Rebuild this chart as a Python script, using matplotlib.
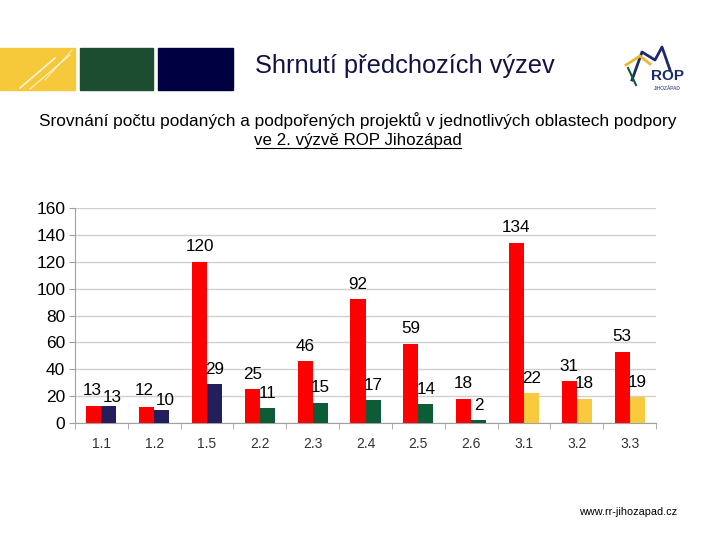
import matplotlib
matplotlib.use('Agg')
import matplotlib.pyplot as plt
import matplotlib.patches as mpatches
import numpy as np

plt.rcParams['font.family'] = ['Liberation Sans', 'DejaVu Sans']

# ── data ──────────────────────────────────────────────────────────────────────
areas     = ['1.1', '1.2', '1.5', '2.2', '2.3', '2.4', '2.5', '2.6', '3.1', '3.2', '3.3']
submitted = [13, 12, 120, 25, 46, 92, 59, 18, 134, 31, 53]
supported = [13, 10, 29, 11, 15, 17, 14, 2, 22, 18, 19]
priority  = ['1', '1', '1', '2', '2', '2', '2', '2', '3', '3', '3']

RED = '#FF0000'
prio_colors = {'1': '#231F5C', '2': '#0E5B38', '3': '#F9C93E'}
W, H = 720, 540

fig = plt.figure(figsize=(7.2, 5.4), dpi=100)
fig.patch.set_facecolor('white')

# ── header band ───────────────────────────────────────────────────────────────
def px_rect(x0, y0, x1, y1, color):
    fig.patches.append(mpatches.Rectangle((x0 / W, 1 - y1 / H), (x1 - x0) / W, (y1 - y0) / H,
                                          transform=fig.transFigure, color=color, zorder=1))

px_rect(0, 48, 75, 90, '#F6C93A')
px_rect(80, 48, 153, 90, '#1C4D30')
px_rect(158, 48, 233, 90, '#000040')
# white brush streaks on the yellow block
for (xa, ya, xb, yb, lw) in [(20, 88, 55, 58, 1.2), (30, 89, 70, 55, 0.8), (45, 80, 72, 50, 0.6)]:
    fig.add_artist(plt.Line2D([xa / W, xb / W], [1 - ya / H, 1 - yb / H],
                              transform=fig.transFigure, color='white', lw=lw, alpha=0.8))

fig.text(405 / W, 1 - 66 / H, 'Shrnutí předchozích výzev', ha='center', va='center',
         fontsize=18.3, color='#121245')

# ROP logo
fig.add_artist(plt.Line2D(np.array([632, 642, 655, 662, 670]) / W,
                          1 - np.array([80, 52, 60, 47, 70]) / H,
                          transform=fig.transFigure, color='#1C2A6B', lw=2))
fig.add_artist(plt.Line2D(np.array([626, 640, 650]) / W, 1 - np.array([65, 56, 64]) / H,
                          transform=fig.transFigure, color='#E8B92E', lw=2))
fig.add_artist(plt.Line2D(np.array([628, 636]) / W, 1 - np.array([68, 85]) / H,
                          transform=fig.transFigure, color='#0E5B38', lw=1.5))
fig.text(667 / W, 1 - 76 / H, 'ROP', ha='center', va='center', fontsize=11,
         fontweight='bold', color='#1C2A6B')
fig.text(667 / W, 1 - 88 / H, 'JIHOZÁPAD', ha='center', va='center', fontsize=3.5,
         color='#1C2A6B')

# subtitle
fig.text(358 / W, 1 - 121 / H,
         'Srovnání počtu podaných a podpořených projektů v jednotlivých oblastech podpory',
         ha='center', va='center', fontsize=12.4, color='black')
fig.text(358 / W, 1 - 140 / H, 've 2. výzvě ROP Jihozápad', ha='center', va='center',
         fontsize=12.2, color='black')
fig.add_artist(plt.Line2D([256 / W, 461 / W], [1 - 148 / H, 1 - 148 / H],
                          transform=fig.transFigure, color='black', lw=0.8))

fig.text(628 / W, 1 - 512 / H, 'www.rr-jihozapad.cz', ha='center', va='center',
         fontsize=7.8, color='black')

# ── chart ─────────────────────────────────────────────────────────────────────
ax = fig.add_axes([75 / W, 1 - 423 / H, (656 - 75) / W, (423 - 208) / H])
x = np.arange(len(areas))
bw = 0.285
b1 = ax.bar(x - bw / 2, submitted, bw, color=RED, zorder=3)
b2 = ax.bar(x + bw / 2, supported, bw, color=[prio_colors[p] for p in priority], zorder=3)

# label offsets (px), Excel nudged the crowded 1.1 / 1.2 pairs apart
nudge1 = {0: (-2, 15), 1: (-2, 16)}
nudge2 = {0: (3, 8), 1: (3, 9)}
for i, v in enumerate(submitted):
    ax.annotate(str(v), (x[i] - bw / 2, v), xytext=nudge1.get(i, (0, 15)),
                textcoords='offset pixels', ha='center', va='center', fontsize=12.3,
                color='black', zorder=4)
for i, v in enumerate(supported):
    ax.annotate(str(v), (x[i] + bw / 2, v), xytext=nudge2.get(i, (0, 15)),
                textcoords='offset pixels', ha='center', va='center', fontsize=12.3,
                color='black', zorder=4)

ax.set_xlim(-0.5, len(areas) - 0.5)
ax.set_ylim(0, 160)
ax.set_yticks(range(0, 161, 20))
ax.set_xticks(x)
ax.set_xticklabels(areas)
ax.set_xticks(np.arange(-0.5, len(areas), 1), minor=True)
ax.yaxis.grid(True, color='#D0D0D0', lw=1, zorder=0)
for side in ['top', 'right']:
    ax.spines[side].set_visible(False)
ax.spines['left'].set_color('#A0A0A0')
ax.spines['bottom'].set_color('#A0A0A0')
ax.tick_params(axis='y', labelsize=12.5, colors='#A0A0A0', labelcolor='black', length=4, pad=3)
ax.tick_params(axis='x', which='major', length=0, labelsize=10, labelcolor='#333333', pad=10)
ax.tick_params(axis='x', which='minor', length=4, colors='#A0A0A0')

fig.savefig('out.png', dpi=100, facecolor=fig.get_facecolor())
